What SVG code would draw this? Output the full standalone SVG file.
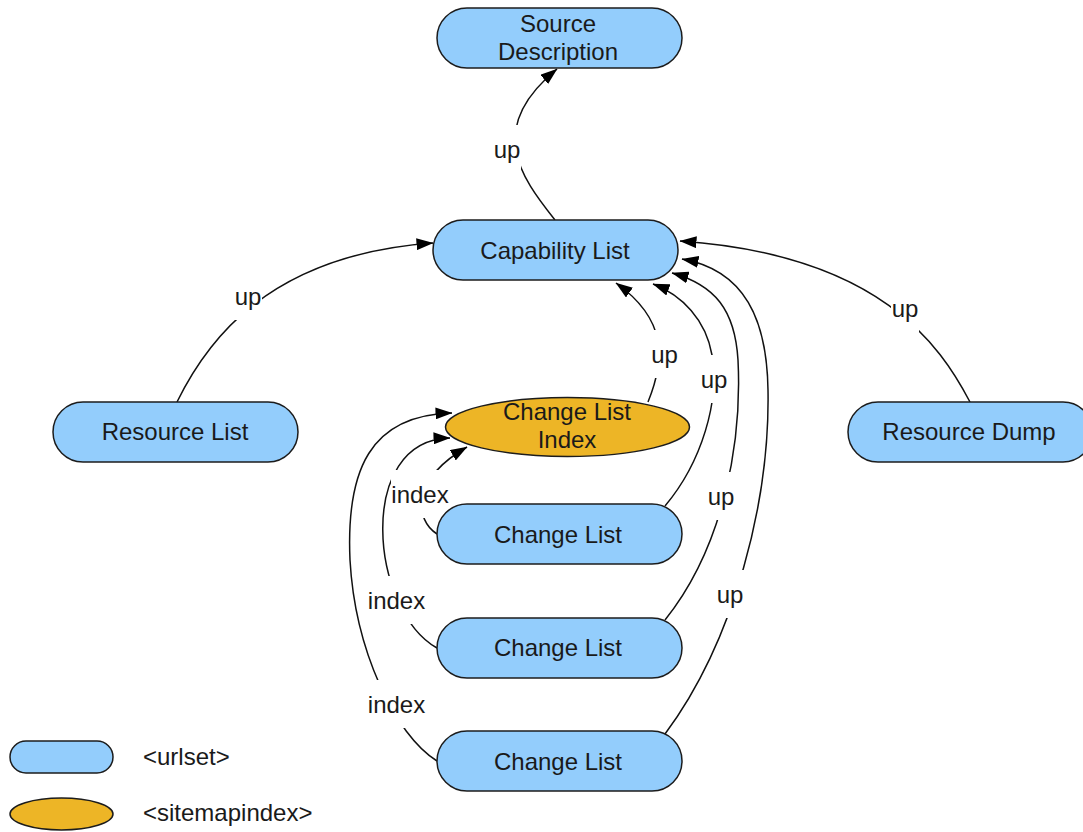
<svg xmlns="http://www.w3.org/2000/svg" width="1083" height="832" viewBox="0 0 1083 832">
<defs>
<marker id="arr" viewBox="0 0 17 12" markerWidth="17" markerHeight="12" refX="16.5" refY="6" orient="auto" markerUnits="userSpaceOnUse">
<path d="M0,0 L17,6 L0,12 z" fill="#000"/>
</marker>
<style>
.edge{fill:none;stroke:#111;stroke-width:1.5;marker-end:url(#arr)}
.lbg{fill:#fff;stroke:none}
.lbl{font-family:"Liberation Sans",Arial,Helvetica,sans-serif;font-size:24px;fill:#1a1a1a;text-anchor:middle}
.urlset{fill:#93CDFC;stroke:#1c1c1c;stroke-width:1.5}
.smi{fill:#EDB526;stroke:#1c1c1c;stroke-width:1.5}
.txt{font-family:"Liberation Sans",Arial,Helvetica,sans-serif;font-size:24px;fill:#1a1a1a;text-anchor:middle}
.leg{font-family:"Liberation Sans",Arial,Helvetica,sans-serif;font-size:24px;fill:#1a1a1a}
</style>
</defs>
<rect width="1083" height="832" fill="#fff"/>
<g id="connectors">
<path class="edge" d="M555,220 C520,176 485,128 557,69"/>
<path class="edge" d="M177,402 C205,345 265,255 433,243"/>
<path class="edge" d="M970,402 C940,345 880,255 680,241"/>
<path class="edge" d="M648,402 C665,360 668,320 616,283"/>
<path class="edge" d="M665,506 C702,462 720,400 712,355 C706,320 682,295 653,284"/>
<path class="edge" d="M665,620 C725,545 742,440 738,360 C735,310 715,285 672,273"/>
<path class="edge" d="M665,734 C735,640 770,500 768,390 C767,320 745,270 682,259"/>
<path class="edge" d="M437,534 C415,520 410,480 467,447"/>
<path class="edge" d="M437,648 C370,610 355,440 450,438"/>
<path class="edge" d="M437,761 C395,735 355,650 350,560 C346,470 370,415 452,413"/>
<rect class="lbg" x="493" y="125" width="28" height="48"/>
<text class="lbl" x="507" y="158">up</text>
<rect class="lbg" x="234" y="272" width="28" height="48"/>
<text class="lbl" x="248" y="305">up</text>
<rect class="lbg" x="891" y="284" width="28" height="48"/>
<text class="lbl" x="905" y="317">up</text>
<rect class="lbg" x="650" y="330" width="29" height="48"/>
<text class="lbl" x="664.5" y="363">up</text>
<rect class="lbg" x="700" y="355" width="28" height="48"/>
<text class="lbl" x="714" y="388">up</text>
<rect class="lbg" x="707" y="472" width="28" height="48"/>
<text class="lbl" x="721" y="505">up</text>
<rect class="lbg" x="716" y="570" width="28" height="48"/>
<text class="lbl" x="730" y="603">up</text>
<rect class="lbg" x="391" y="470" width="58" height="48"/>
<text class="lbl" x="420" y="503">index</text>
<rect class="lbg" x="367.5" y="576" width="58" height="48"/>
<text class="lbl" x="396.5" y="609">index</text>
<rect class="lbg" x="367.5" y="680" width="58" height="48"/>
<text class="lbl" x="396.5" y="713">index</text>
</g>
<g id="source-description">
<rect class="urlset" x="437" y="8" width="245" height="60" rx="30"/>
<text class="txt" x="558" y="32">Source</text>
<text class="txt" x="558" y="60">Description</text>
</g>
<g id="capability-list">
<rect class="urlset" x="433" y="220" width="245" height="60" rx="30"/>
<text class="txt" x="555" y="259">Capability List</text>
</g>
<g id="resource-list">
<rect class="urlset" x="53" y="402" width="245" height="60" rx="30"/>
<text class="txt" x="175" y="440">Resource List</text>
</g>
<g id="resource-dump">
<rect class="urlset" x="848" y="402" width="245" height="60" rx="30"/>
<text class="txt" x="969" y="440">Resource Dump</text>
</g>
<g id="change-list-index">
<ellipse class="smi" cx="567.5" cy="427" rx="122" ry="29.5"/>
<text class="txt" x="567" y="420">Change List</text>
<text class="txt" x="567" y="448">Index</text>
</g>
<g id="change-list-1">
<rect class="urlset" x="437" y="504" width="245" height="60" rx="30"/>
<text class="txt" x="558" y="543">Change List</text>
</g>
<g id="change-list-2">
<rect class="urlset" x="437" y="618" width="245" height="60" rx="30"/>
<text class="txt" x="558" y="656">Change List</text>
</g>
<g id="change-list-3">
<rect class="urlset" x="437" y="731" width="245" height="60" rx="30"/>
<text class="txt" x="558" y="770">Change List</text>
</g>
<g id="legend">
<rect class="urlset" x="10" y="741" width="103" height="32" rx="16"/>
<text class="leg" x="143" y="765">&lt;urlset&gt;</text>
<ellipse class="smi" cx="61.5" cy="814" rx="51.5" ry="16"/>
<text class="leg" x="143" y="821">&lt;sitemapindex&gt;</text>
</g>
</svg>
